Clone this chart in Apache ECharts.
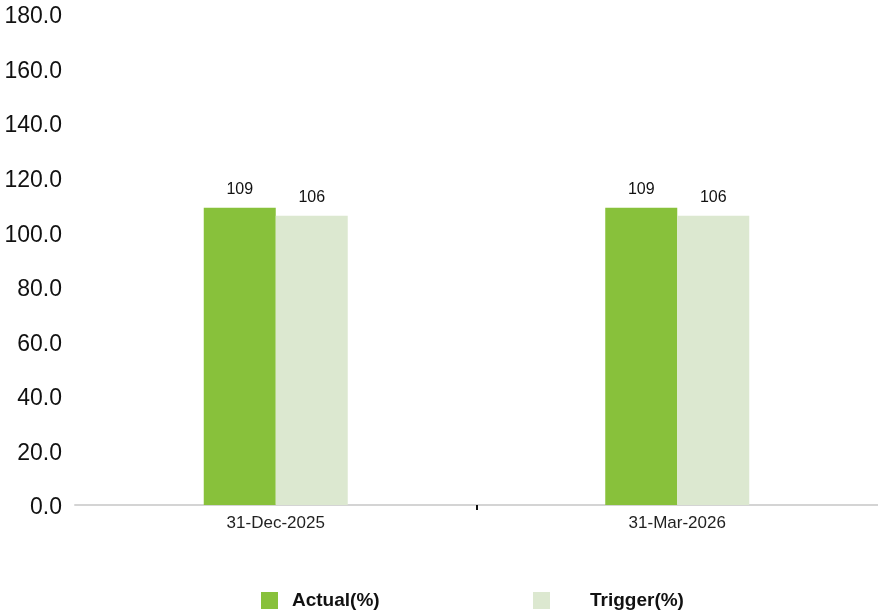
<!DOCTYPE html>
<html>
<head>
<meta charset="utf-8">
<script src="https://cdn.jsdelivr.net/npm/echarts@6/dist/echarts.min.js"></script>
<style>
  html, body { margin: 0; padding: 0; background: #fff; }
  #chart { width: 878px; height: 614px; }
</style>
</head>
<body>
<div id="chart"></div>
<script>
// Coverage ratio by reporting date
const categories = ['31-Dec-2025', '31-Mar-2026'];
const actualValues = [109, 109];
const triggerValues = [106, 106];
const seriesNames = ['Actual(%)', 'Trigger(%)'];
const colors = ['#88c13b', '#dce8d0'];

const chart = echarts.init(document.getElementById('chart'));
const font = 'Liberation Sans, Arial, sans-serif';

const legendText = (padLeft) => ({
  fontFamily: font, fontSize: 19, fontWeight: 'bold', color: '#111', padding: [18, 0, 0, padLeft]
});
const legendBase = {
  top: 586,
  itemWidth: 17,
  itemHeight: 17,
  icon: 'rect',
  selectedMode: false
};

chart.setOption({
  animation: false,
  grid: { left: 75, right: 0, top: 14, bottom: 109, containLabel: false },
  legend: [
    Object.assign({}, legendBase, { left: 256, data: [seriesNames[0]], textStyle: legendText(9) }),
    Object.assign({}, legendBase, { left: 528, data: [seriesNames[1]], textStyle: legendText(35) })
  ],
  xAxis: [
    {
      type: 'category',
      data: categories,
      axisLine: { show: true, lineStyle: { color: '#d4d4d4', width: 2 } },
      axisTick: { show: false },
      axisLabel: { fontFamily: font, fontSize: 17, color: '#222', margin: 10 }
    },
    {
      // separator tick between the two dates
      type: 'value',
      position: 'bottom',
      min: 0,
      max: 2,
      axisLine: { show: false },
      axisLabel: { show: false },
      splitLine: { show: false },
      axisTick: { show: true, length: 5, customValues: [1], lineStyle: { color: '#111', width: 2 } }
    }
  ],
  yAxis: {
    type: 'value',
    min: 0,
    max: 180,
    interval: 20,
    splitLine: { show: false },
    axisLine: { show: false },
    axisTick: { show: false },
    axisLabel: {
      margin: 13,
      formatter: (v) => '{v|' + v.toFixed(1) + '}',
      rich: {
        v: { fontFamily: font, fontSize: 23, color: '#111', padding: [6, 0, 0, 0] }
      }
    }
  },
  series: [
    {
      name: seriesNames[0], type: 'bar', data: actualValues, barWidth: 72, barGap: '0%',
      itemStyle: { color: colors[0] },
      label: { show: true, position: 'top', distance: 10, fontFamily: font, fontSize: 16, color: '#111' }
    },
    {
      name: seriesNames[1], type: 'bar', data: triggerValues, barWidth: 72, barGap: '0%',
      itemStyle: { color: colors[1] },
      label: { show: true, position: 'top', distance: 10, fontFamily: font, fontSize: 16, color: '#111' }
    }
  ]
});
</script>
</body>
</html>
